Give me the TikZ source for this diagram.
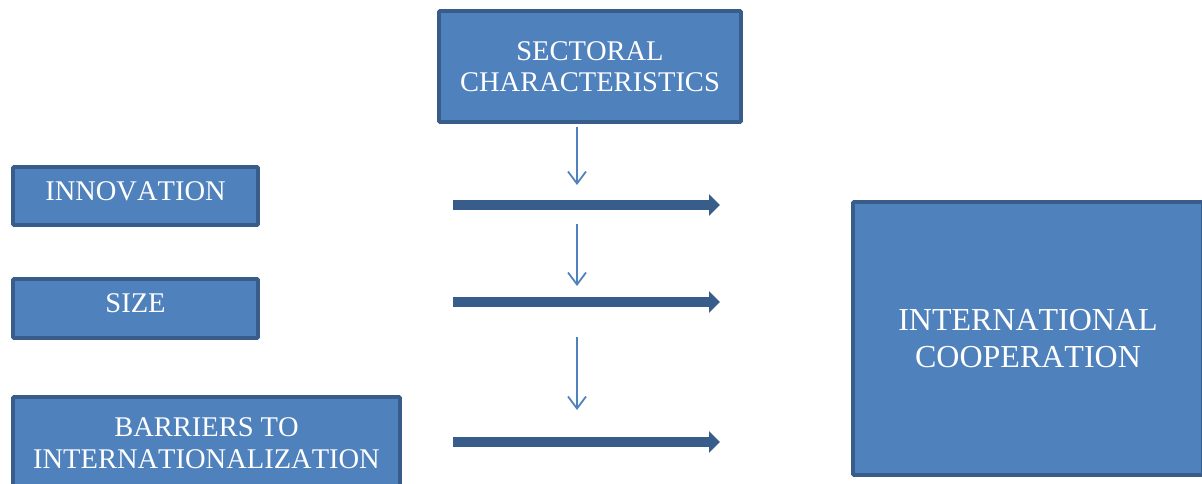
\documentclass[tikz,border=0pt]{standalone}
\usepackage{fontspec}
\setmainfont[Kerning=Off]{Liberation Serif}
\usetikzlibrary{arrows.meta, positioning}
\definecolor{boxblue}{HTML}{4F81BD}
\definecolor{edgeblue}{HTML}{385D8A}

\begin{document}
\begin{tikzpicture}[x=1pt, y=-1pt]
\tikzstyle{factor} = [rectangle, rounded corners=1pt, draw=edgeblue, line width=3.8pt, fill=boxblue, text=white, align=center, inner sep=0pt, font=\fontsize{28.5}{31.5}\selectfont]
\tikzstyle{oneline} = [text height=19.5pt, text depth=11.5pt]
\tikzstyle{flow} = [draw=edgeblue, line width=10pt, -{Triangle[length=11pt, width=21pt]}]
\tikzstyle{moderate} = [draw=boxblue, line width=1.8pt, -{Straight Barb[length=12pt, width=18pt]}]

\useasboundingbox (0,0) rectangle (1202,484);

\node (sector) [factor, minimum width=302pt, minimum height=111pt] at (590,66.5) {SECTORAL\\CHARACTERISTICS};

% Determinants
\node (innov) [factor, oneline, minimum width=245pt, minimum height=58pt] at (135.5,196) {INNOVATION};
\node (size) [factor, oneline, minimum width=245pt, minimum height=59pt] at (135.5,308.5) {SIZE};
\node (barrier) [factor, minimum width=387pt, minimum height=92pt] at (206.5,443) {BARRIERS TO\\INTERNATIONALIZATION};

\node (coop) [factor, minimum width=350pt, minimum height=273pt, font=\fontsize{32}{37}\selectfont] at (1028,338.5) {INTERNATIONAL\\COOPERATION};

% Effect arrows
\coordinate (f1a) at (453,205);
\coordinate (f1b) at (720,205);
\coordinate (f2a) at (453,302);
\coordinate (f2b) at (720,302);
\coordinate (f3a) at (453,442);
\coordinate (f3b) at (720,442);
\draw[flow] (f1a) -- (f1b);
\draw[flow] (f2a) -- (f2b);
\draw[flow] (f3a) -- (f3b);

% Sector influence
\coordinate (m1a) at (577,127);
\coordinate (m1b) at (577,185);
\coordinate (m2a) at (577,224);
\coordinate (m2b) at (577,286);
\coordinate (m3a) at (577,337);
\coordinate (m3b) at (577,410);
\draw[moderate] (m1a) -- (m1b);
\draw[moderate] (m2a) -- (m2b);
\draw[moderate] (m3a) -- (m3b);

\end{tikzpicture}
\end{document}
